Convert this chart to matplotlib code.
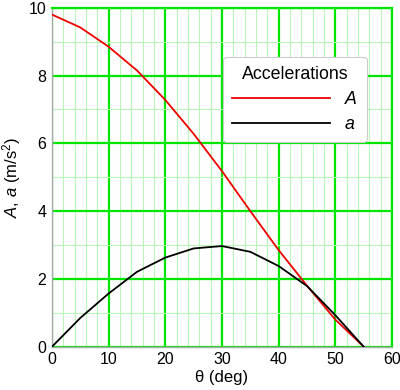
import matplotlib
matplotlib.use("Agg")
import matplotlib.pyplot as plt
from matplotlib.ticker import MultipleLocator

plt.rcParams['font.family'] = ['Liberation Sans', 'DejaVu Sans']
plt.rcParams['mathtext.fontset'] = 'custom'
plt.rcParams['mathtext.rm'] = 'Liberation Sans'
plt.rcParams['mathtext.it'] = 'Liberation Sans:italic'

theta = [0, 5, 10, 15, 20, 25, 30, 35, 40, 45, 50, 55]
A_vals = [9.8, 9.42, 8.85, 8.15, 7.28, 6.28, 5.18, 4.0, 2.85, 1.8, 0.8, 0.0]
a_vals = [0.0, 0.85, 1.57, 2.21, 2.63, 2.9, 2.97, 2.8, 2.38, 1.79, 0.93, 0.0]
x_ticks = [0, 10, 20, 30, 40, 50, 60]
y_ticks = [0, 2, 4, 6, 8, 10]

fig = plt.figure(figsize=(4.0, 3.9), dpi=100)
ax = fig.add_axes([0.13, 0.111, 0.85, 0.869])

ax.plot(theta, A_vals, color='#ee0000', lw=1.3, label=r'$\it{A}$', zorder=3)
ax.plot(theta, a_vals, color='black', lw=1.3, label=r'$\it{a}$', zorder=3)

ax.set_xlim(0, 60)
ax.set_ylim(0, 10)
ax.set_xticks(x_ticks)
ax.set_yticks(y_ticks)
ax.xaxis.set_minor_locator(MultipleLocator(2))
ax.yaxis.set_minor_locator(MultipleLocator(1))
ax.grid(which='major', color='#00e600', lw=1.6, zorder=1)
ax.grid(which='minor', color='#b8f5b8', lw=0.8, zorder=0)
ax.set_axisbelow(True)
ax.tick_params(which='both', length=0, labelsize=11.5, pad=4)

for s in ['left', 'bottom']:
    ax.spines[s].set_color('#aaaaaa')
    ax.spines[s].set_linewidth(1.0)
for s in ['top', 'right']:
    ax.spines[s].set_color('#00e600')
    ax.spines[s].set_linewidth(1.6)

ax.set_xlabel('θ (deg)', fontsize=12, labelpad=2)
ax.set_ylabel(r'$\it{A}$, $\it{a}$ (m/s$^2$)', fontsize=12, labelpad=4)

leg = ax.legend(title='Accelerations', loc='upper left', bbox_to_anchor=(0.503, 0.855),
                borderaxespad=0,
                fontsize=12.8, title_fontsize=12.8, markerfirst=True, handlelength=5.5,
                frameon=True, fancybox=True, framealpha=1, edgecolor='#cccccc',
                borderpad=0.5, labelspacing=0.45, handletextpad=0.8)
leg.get_frame().set_linewidth(0.8)

fig.savefig('out.png', dpi=100)
